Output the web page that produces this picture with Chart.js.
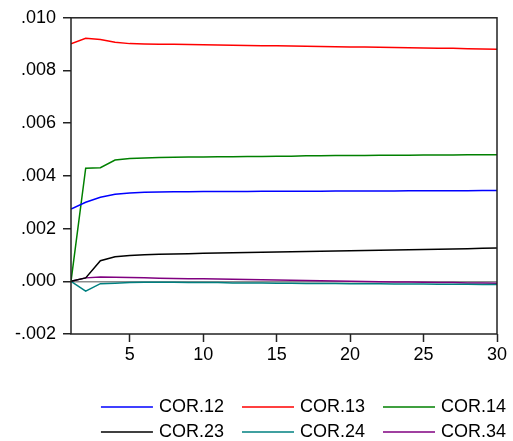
<!DOCTYPE html>
<html>
<head>
<meta charset="utf-8">
<script src="https://cdn.jsdelivr.net/npm/chart.js@4.4.1/dist/chart.umd.min.js"></script>
<style>
  body { margin: 0; background: #fff; }
  #wrap { width: 513px; height: 441px; }
</style>
</head>
<body>
<div id="wrap"><canvas id="chart"></canvas></div>
<script>
'use strict';
const periods = [1, 2, 3, 4, 5, 6, 7, 8, 9, 10, 11, 12, 13, 14, 15, 16, 17, 18, 19, 20, 21, 22, 23, 24, 25, 26, 27, 28, 29, 30];
const xTicks = [5, 10, 15, 20, 25, 30];
const yTicks = [-0.002, 0.000, 0.002, 0.004, 0.006, 0.008, 0.010];

const cor12 = [.00274, .00300, .00319, .00330, .00335, .00338, .00339, .00340, .00340, .00341,
  .00341, .00341, .00341, .00342, .00342, .00342, .00342, .00342, .00343, .00343,
  .00343, .00343, .00343, .00344, .00344, .00344, .00344, .00344, .00345, .00345];
const cor13 = [.00901, .00922, .00918, .00907, .00902, .00901, .00900, .00900, .00899, .00898,
  .00897, .00896, .00895, .00894, .00894, .00893, .00892, .00891, .00890, .00889,
  .00889, .00888, .00887, .00886, .00885, .00884, .00884, .00883, .00882, .00881];
const cor14 = [0, .00429, .00431, .00460, .00466, .00468, .00470, .00471, .00472, .00472,
  .00473, .00473, .00474, .00474, .00475, .00475, .00476, .00476, .00477, .00477,
  .00477, .00478, .00478, .00478, .00479, .00479, .00479, .00480, .00480, .00480];
const cor23 = [0, .00013, .00078, .00093, .00098, .00101, .00103, .00104, .00105, .00106,
  .00107, .00108, .00109, .00110, .00111, .00112, .00113, .00114, .00115, .00116,
  .00117, .00118, .00119, .00120, .00121, .00122, .00123, .00124, .00125, .00126];
const cor24 = [0, -.00037, -.00009, -.00007, -.00005, -.00004, -.00004, -.00004, -.00005, -.00005,
  -.00005, -.00006, -.00006, -.00006, -.00007, -.00007, -.00008, -.00008, -.00008, -.00009,
  -.00009, -.00009, -.00010, -.00010, -.00010, -.00011, -.00011, -.00011, -.00012, -.00012];
const cor34 = [0, .00013, .00016, .00015, .00014, .00013, .00012, .00011, .00010, .00010,
  .00009, .00008, .00007, .00006, .00005, .00004, .00003, .00002, .00001, .00000,
  -.00001, -.00002, -.00003, -.00003, -.00004, -.00005, -.00005, -.00006, -.00006, -.00007];

const seriesNames = ['COR.12', 'COR.13', 'COR.14', 'COR.23', 'COR.24', 'COR.34'];
const seriesValues = [cor12, cor13, cor14, cor23, cor24, cor34];
const seriesColors = ['#0000ff', '#ff0000', '#008000', '#000000', '#008080', '#800080'];

// little line sample used as the legend point style
function legendLine(color) {
  const c = document.createElement('canvas');
  c.width = 72;
  c.height = 4;
  const g = c.getContext('2d');
  g.strokeStyle = color;
  g.lineWidth = 1.5;
  g.beginPath();
  g.moveTo(17, 2);
  g.lineTo(69, 2);
  g.stroke();
  return c;
}

// box round the plot area
const frame = {
  id: 'frame',
  afterDatasetsDraw(chart) {
    const {ctx, chartArea: a} = chart;
    ctx.save();
    ctx.strokeStyle = '#222';
    ctx.lineWidth = 1.5;
    ctx.strokeRect(a.left, a.top, a.right - a.left, a.bottom - a.top);
    ctx.restore();
  }
};

Chart.defaults.font.family = '"Liberation Sans", Arial, sans-serif';
Chart.defaults.font.size = 18;
Chart.defaults.color = '#000';

const datasets = seriesNames.map((name, i) => ({
  label: name,
  data: periods.map((p, j) => ({x: p, y: seriesValues[i][j]})),
  borderColor: seriesColors[i],
  backgroundColor: seriesColors[i],
  borderWidth: 1.5,
  pointRadius: 0,
  pointStyle: legendLine(seriesColors[i]),
  tension: 0
}));

new Chart(document.getElementById('chart'), {
  type: 'line',
  data: {datasets: datasets},
  plugins: [frame],
  options: {
    responsive: true,
    maintainAspectRatio: false,
    animation: false,
    layout: {padding: {top: 14, left: 0, right: 0, bottom: -10}},
    scales: {
      x: {
        type: 'linear',
        min: 1,
        max: 30,
        border: {display: false},
        grid: {drawOnChartArea: false, drawTicks: true, tickLength: 8, tickColor: '#222', tickWidth: 1.5},
        ticks: {padding: 2, maxRotation: 0, callback: v => String(v)},
        afterBuildTicks: scale => { scale.ticks = xTicks.map(v => ({value: v})); },
        afterFit: scale => { scale.height = 57; scale.paddingRight = 16; }
      },
      y: {
        min: -0.002,
        max: 0.010,
        border: {display: false},
        grid: {
          drawTicks: true,
          tickLength: 8,
          tickColor: '#222',
          tickWidth: 1.5,
          lineWidth: 1.5,
          color: c => (c.tick && Math.abs(c.tick.value) < 1e-9 ? '#8c8c8c' : 'rgba(0,0,0,0)')
        },
        ticks: {
          padding: 7,
          callback: v => v.toFixed(3).replace(/^(-?)0\./, '$1.')
        },
        afterBuildTicks: scale => { scale.ticks = yTicks.map(v => ({value: v})); },
        afterFit: scale => { scale.width = 71; }
      }
    },
    plugins: {
      tooltip: {enabled: false},
      legend: {
        position: 'bottom',
        align: 'end',
        labels: {
          usePointStyle: true,
          pointStyleWidth: 60,
          padding: 7,
          color: '#000',
          font: {size: 18}
        }
      }
    }
  }
});
</script>
</body>
</html>
